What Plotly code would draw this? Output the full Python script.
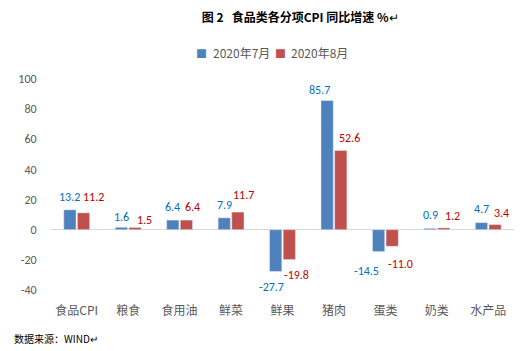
import plotly.graph_objects as go

categories = ["食品CPI", "粮食", "食用油", "鲜菜", "鲜果", "猪肉", "蛋类", "奶类", "水产品"]
jul = [13.2, 1.6, 6.4, 7.9, -27.7, 85.7, -14.5, 0.9, 4.7]
aug = [11.2, 1.5, 6.4, 11.7, -19.8, 52.6, -11.0, 1.2, 3.4]
series_names = ["2020年7月", "2020年8月"]
series_colors = ["#4F81BD", "#C0504D"]
label_colors = ["#0070C0", "#C00000"]
y_ticks = [-40, -20, 0, 20, 40, 60, 80, 100]

# label placement tweaks (pixels): horizontal shift from bar centre, distance from bar end
label_dx = [[0, 0, 0, 0, -4, -8, -12, 0, 0],
            [9.5, 10, 6.5, 5.5, 7.5, 9, 8.5, 8.5, 6.5]]
label_dy = [[13, 10, 13, 13, 16, 11, 19, 13, 14],
            [16, 7, 13, 17, 15, 12, 18, 12, 12]]
bar_center_shift = [-6.8, 6.8]

font_cjk = "Microsoft YaHei, Noto Sans CJK SC, sans-serif"
font_num = "Calibri, Carlito, Arial, Liberation Sans, sans-serif"

fig = go.Figure()
for vals, name, col in zip([jul, aug], series_names, series_colors):
    fig.add_trace(go.Bar(x=categories, y=vals, name=name, marker_color=col,
                         showlegend=False))

for s, (vals, lcol) in enumerate(zip([jul, aug], label_colors)):
    for i, (cat, v) in enumerate(zip(categories, vals)):
        sign = 1 if v >= 0 else -1
        fig.add_annotation(x=cat, y=v, xref="x", yref="y", text=f"{v:.1f}",
                           showarrow=False, xanchor="center", yanchor="middle",
                           xshift=bar_center_shift[s] + label_dx[s][i],
                           yshift=sign * label_dy[s][i],
                           font=dict(color=lcol, size=12, family=font_num))

fig.update_layout(
    width=522, height=351,
    margin=dict(l=51, r=8, t=79, b=61),
    paper_bgcolor="white", plot_bgcolor="white",
    barmode="group", bargap=0.47, bargroupgap=0.1,
    font=dict(family=font_cjk, color="#595959", size=12),
    title=dict(text="<b>图 2   食品类各分项CPI 同比增速 %</b>↵", x=0.575, xanchor="center",
               y=0.95, yanchor="middle",
               font=dict(size=12, color="#000000", family="Noto Sans CJK SC, sans-serif")),
    xaxis=dict(showline=False, ticks="outside", ticklen=10, tickcolor="rgba(0,0,0,0)",
               tickfont=dict(size=12, color="#595959"), showgrid=False),
    yaxis=dict(range=[-40, 100], tickvals=y_ticks, ticktext=[str(t) for t in y_ticks],
               showgrid=False, zeroline=True,
               zerolinecolor="#D9D9D9", zerolinewidth=1, showline=False,
               ticks="outside", ticklen=11, tickcolor="rgba(0,0,0,0)",
               tickfont=dict(size=12, color="#595959", family=font_num)),
)

# legend drawn as text annotations (square marker + label)
legend_x = [0.325, 0.495]
for lx, name, col in zip(legend_x, series_names, series_colors):
    fig.add_annotation(text="■", xref="paper", yref="paper", x=lx, y=1.125,
                       xanchor="center", yanchor="middle", showarrow=False,
                       font=dict(size=11, color=col))
    fig.add_annotation(text=name, xref="paper", yref="paper", x=lx + 0.02, y=1.125,
                       xanchor="left", yanchor="middle", showarrow=False,
                       font=dict(size=12, color="#595959", family=font_cjk))

fig.add_annotation(text="数据来源：WIND↵", xref="paper", yref="paper",
                   x=-0.084, y=-0.232, xanchor="left", yanchor="middle",
                   showarrow=False, font=dict(size=10, color="#000000",
                                              family="Noto Sans CJK SC, sans-serif"))

fig.write_html("out.html")
